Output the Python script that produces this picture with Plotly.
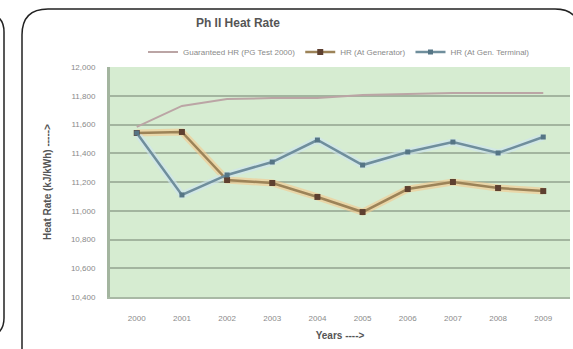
import plotly.graph_objects as go

# Heat-rate history, Phase II units
years = ["2000", "2001", "2002", "2003", "2004", "2005", "2006", "2007", "2008", "2009"]
guarantee_hr = [11583, 11729, 11777, 11784, 11784, 11805, 11812, 11819, 11819, 11819]
hr_series_a = [11541, 11548, 11214, 11193, 11096, 10991, 11151, 11200, 11158, 11137]
hr_series_b = [11541, 11110, 11249, 11339, 11492, 11318, 11409, 11478, 11402, 11513]

y_ticks = [10400, 10600, 10800, 11000, 11200, 11400, 11600, 11800, 12000]

legend_names = ["Guaranteed HR (PG Test 2000)", "HR (At Generator)", "HR (At Gen. Terminal)"]

FONT = "Liberation Sans, Arial, sans-serif"

W, H = 573, 349
L, R, T, B = 110, 3, 67, 52
PW, PH = W - L - R, H - T - B


def px(x):
    return (x - L) / PW


def py(y):
    return (H - B - y) / PH


fig = go.Figure()

# soft halos behind the two measured series
fig.add_trace(go.Scatter(x=years, y=hr_series_a, mode="lines",
                         line=dict(color="rgba(245,200,140,0.6)", width=7),
                         hoverinfo="skip", showlegend=False))
fig.add_trace(go.Scatter(x=years, y=hr_series_b, mode="lines",
                         line=dict(color="rgba(205,228,242,0.6)", width=7),
                         hoverinfo="skip", showlegend=False))

fig.add_trace(go.Scatter(x=years, y=guarantee_hr, mode="lines", name=legend_names[0],
                         line=dict(color="#bba5a5", width=2)))
fig.add_trace(go.Scatter(x=years, y=hr_series_a, mode="lines+markers", name=legend_names[1],
                         line=dict(color="#9c8358", width=2.5),
                         marker=dict(symbol="square", size=6, color="#5e4030")))
fig.add_trace(go.Scatter(x=years, y=hr_series_b, mode="lines+markers", name=legend_names[2],
                         line=dict(color="#6f8e9c", width=2.5),
                         marker=dict(symbol="square", size=5, color="#557585")))

# outer rounded panels
shapes = [
    dict(type="path", xref="paper", yref="paper",
         path=(f"M {px(22)},{py(360)} L {px(22)},{py(35)} "
               f"Q {px(22)},{py(9)} {px(48)},{py(9)} "
               f"L {px(555)},{py(9)} Q {px(580)},{py(9)} {px(580)},{py(35)} "
               f"L {px(580)},{py(360)}"),
         line=dict(color="#222222", width=1.5)),
    dict(type="path", xref="paper", yref="paper",
         path=(f"M {px(-20)},{py(12)} Q {px(4)},{py(12)} {px(4)},{py(32)} "
               f"L {px(4)},{py(318)} Q {px(4)},{py(338)} {px(-20)},{py(338)}"),
         line=dict(color="#222222", width=1.5)),
]

fig.update_layout(
    width=W, height=H,
    margin=dict(l=L, r=R, t=T, b=B),
    paper_bgcolor="white",
    plot_bgcolor="#d6ecd1",
    font=dict(family=FONT, size=8, color="#7a7a7a"),
    title=dict(text="<b>Ph II Heat Rate</b>", x=px(301), xanchor="center",
               y=1 - 23 / H, yanchor="middle",
               font=dict(family=FONT, size=12, color="#555555")),
    showlegend=True,
    legend=dict(orientation="h", x=px(143), xanchor="left", y=py(52), yanchor="middle",
                font=dict(family=FONT, size=8, color="#8a8a8a"),
                itemwidth=30, bgcolor="rgba(0,0,0,0)", traceorder="normal"),
    shapes=shapes,
    xaxis=dict(type="category", categoryorder="array", categoryarray=years,
               showgrid=False, showline=True, linecolor="#a9b9a5", linewidth=2,
               ticks="", ticklabelstandoff=12,
               tickfont=dict(family=FONT, size=8, color="#8a8a8a"),
               title=dict(text="<b>Years ----></b>", standoff=10,
                          font=dict(family=FONT, size=10, color="#555555")),
               fixedrange=True),
    yaxis=dict(range=[10400, 12000], tickvals=y_ticks, tickformat=",d",
               showgrid=True, gridcolor="#a3b59f", gridwidth=2,
               showline=True, linecolor="#a3b59f", linewidth=3,
               zeroline=False, ticks="", ticklabelstandoff=10,
               tickfont=dict(family=FONT, size=8, color="#8a8a8a"),
               title=dict(text="<b>Heat Rate (kJ/kWh) -----></b>", standoff=18,
                          font=dict(family=FONT, size=10, color="#555555")),
               fixedrange=True),
)

fig.write_html("out.html", config={"displayModeBar": False})
